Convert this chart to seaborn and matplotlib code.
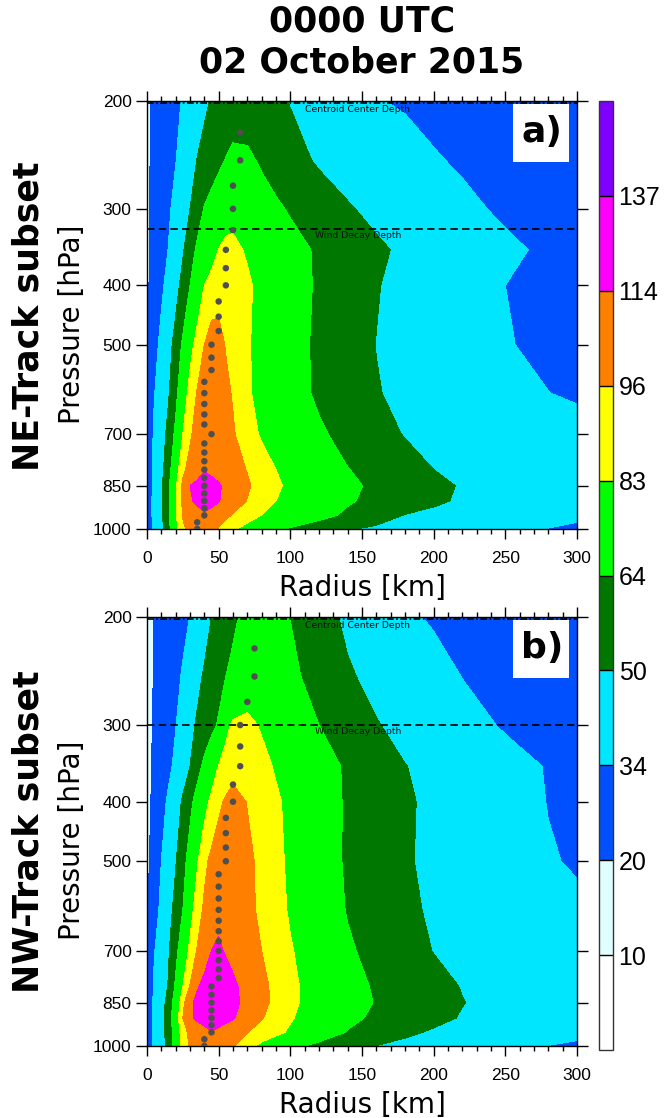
import numpy as np
import pandas as pd
import matplotlib
matplotlib.use("Agg")
import matplotlib.pyplot as plt
import matplotlib.patches as mpatches
import seaborn as sns
from matplotlib.ticker import MultipleLocator, NullLocator

sns.set_theme(style="ticks")
plt.rcParams["font.family"] = ["Liberation Sans", "DejaVu Sans"]
plt.rcParams["text.color"] = "black"
plt.rcParams["axes.labelcolor"] = "black"
plt.rcParams["xtick.color"] = "black"
plt.rcParams["ytick.color"] = "black"
plt.rcParams["axes.edgecolor"] = "black"

# ---------------- data ----------------
radius_km = [0, 5, 10, 15, 20, 25, 30, 35, 40, 45, 50, 55, 60, 70, 80, 90, 100,
             120, 140, 160, 180, 200, 220, 250, 280, 300]
pressure_hpa = [200, 250, 300, 350, 400, 500, 600, 700, 800, 850, 900, 950, 1000]

# NE-Track subset: wind speed (kt) at pressure_hpa (rows) x radius_km (cols)
ne_wind = [
    [18, 22.1, 25.3, 28.4, 31.5, 34.9, 39.2, 43.5, 47.8, 50.9, 52.6, 54.4, 56.2, 56.8, 54.4, 51.9, 49.5, 44.5, 39.5, 34.5, 33.0, 31.8, 30.6, 28.9, 27.2, 26],
    [18, 22.7, 26.3, 30, 33.6, 39.2, 44.9, 50.4, 54, 57.6, 61.1, 64.6, 67.6, 66.7, 62.1, 58.2, 54.3, 48.5, 45.0, 41.6, 38.1, 34.7, 33, 31.1, 29.3, 28],
    [18, 23.4, 27.8, 32.2, 37.7, 43.8, 50, 57.8, 64.8, 69.0, 73.3, 77.5, 79.1, 74.8, 70.5, 66.2, 62.6, 56.9, 51.1, 47.0, 43.3, 39.6, 35.9, 32.6, 30.4, 29],
    [18, 24.1, 29.2, 34.4, 41.5, 48.6, 58, 66.3, 72.1, 77.8, 83.3, 86, 85.8, 81.7, 77.5, 73.3, 69.1, 62, 57, 52, 47.9, 44.4, 41, 35.7, 32.5, 31],
    [18, 25.3, 31.5, 38.4, 45.6, 54, 64, 73.5, 83, 87.3, 91.6, 94.4, 91.2, 84.9, 79.7, 75, 70.3, 62.1, 56.4, 50.6, 46.7, 43.1, 39.5, 34, 32.2, 31],
    [19, 29.1, 37.6, 45.3, 54.7, 66.4, 78.3, 87.9, 96, 102.7, 100, 95.3, 91.6, 84.2, 79, 74.2, 69.3, 61.4, 55.5, 49.8, 46.4, 43, 39.6, 34.5, 32.3, 31],
    [21, 33.3, 41.2, 48.8, 60.1, 75.1, 87.8, 96.9, 103.9, 105.1, 101.8, 98.6, 95, 84.7, 79.1, 74.4, 69.6, 61.8, 56.2, 50.6, 47.6, 44.9, 42.2, 38.2, 34.1, 33],
    [22, 36.1, 44.3, 53.8, 67.2, 83, 93.8, 102.2, 110, 106.8, 103.6, 100.5, 97.3, 88.6, 81.4, 77.6, 73.7, 66, 59.7, 54, 49.4, 47.3, 45.3, 42.2, 39.1, 37],
    [22, 38.3, 46.3, 58, 76.4, 93, 100.9, 106.9, 113, 110.1, 107.1, 104.2, 101.3, 95.4, 89.2, 83, 79.3, 71.8, 64.4, 59.5, 54.7, 50, 47.6, 44, 40.4, 38],
    [22, 39, 48.2, 61.2, 80.9, 99, 114, 118, 122, 119.5, 116, 110.6, 106.3, 97.7, 91, 84.9, 80.6, 73.7, 66.8, 61.4, 57.1, 52.8, 49.1, 45.3, 41.5, 39],
    [22, 39.3, 48.2, 61.2, 80.9, 98.6, 112, 117, 120, 119, 115, 108.9, 104.3, 95.4, 89.2, 83, 79.5, 72.4, 65.4, 60.6, 56.2, 51.9, 48.5, 44.6, 40.6, 38],
    [22, 39.3, 48.2, 61.2, 80.9, 97, 102, 107, 112, 107.6, 103.1, 98.7, 94.8, 88.6, 82.6, 79.1, 75.5, 68.3, 61.5, 55.1, 49.5, 47.3, 45, 41.6, 38.3, 36],
    [24, 37.2, 45.2, 59.3, 79.2, 93.4, 100, 105, 105.8, 100.4, 95, 90, 85, 78.4, 72.6, 66.9, 62.5, 56.7, 50.9, 48, 45.5, 43.1, 40.7, 37.1, 33.7, 32],
]

# NW-Track subset
nw_wind = [
    [15, 20.5, 23.3, 26, 28.7, 31.4, 34.2, 39.5, 44.7, 50, 53.8, 57.6, 61.4, 68.5, 70.4, 67.1, 63.8, 55.2, 47.6, 41.7, 35.7, 32.9, 31.3, 28.9, 26.6, 25],
    [15, 20.7, 24.2, 27.7, 31.2, 35.1, 40.9, 46.6, 51.6, 55.8, 59.9, 64, 67.5, 74.5, 75.8, 71.3, 66.9, 59, 51.5, 46.5, 42.2, 37.9, 33.8, 31.3, 28.7, 27],
    [16, 21.6, 25.6, 29.6, 33.6, 39.8, 46.2, 51.7, 55.9, 60.2, 65.5, 80.1, 85, 86.2, 81.7, 77.3, 72.8, 64, 57.3, 50.7, 46.3, 42.1, 38, 32.9, 29.9, 28],
    [16, 21.9, 26.5, 31.2, 36.7, 43.3, 50, 58.8, 67.3, 75.6, 83.4, 87.3, 91.1, 92.2, 86.7, 81.7, 77.7, 69.6, 62.2, 56.3, 50.3, 46.7, 43.3, 38.1, 33.3, 31],
    [17, 22.7, 29.3, 36.3, 43.9, 51.8, 60.5, 69.4, 78.3, 86.3, 93.2, 97.9, 101, 95.5, 90.2, 84.9, 80, 70.6, 62.4, 57, 51.6, 47.5, 44, 38.7, 33.7, 32],
    [18, 24, 34, 41.6, 49.2, 59.1, 70, 81.6, 92.9, 99.2, 103.6, 108, 105, 99, 92.8, 86.3, 80.6, 70.8, 62.3, 56.8, 51.2, 47.5, 44.3, 39.6, 34.8, 33],
    [19, 27.4, 37.6, 45.3, 54, 64, 77.6, 89.5, 98.3, 104.2, 110, 107.3, 104.6, 99.2, 93.5, 87.3, 81.6, 72.1, 63.2, 57.7, 52.2, 48.5, 46, 42.3, 38.5, 36],
    [20, 33.2, 41.2, 48.8, 60.1, 73.2, 86.1, 97, 105.5, 114, 116.3, 112.7, 109.3, 102.7, 96, 90.1, 84.1, 74.8, 65.8, 59.8, 54.5, 49.7, 47.3, 43.8, 40.3, 38],
    [21, 35.9, 43.2, 50.9, 66.3, 83, 96.6, 112.1, 119.4, 125.5, 125.5, 121.2, 117, 108.4, 99.8, 92.3, 85.9, 76.8, 69, 62.4, 58, 53.6, 49.5, 45.5, 41.6, 39],
    [21, 37, 44.7, 54.7, 71.6, 91.7, 110.4, 118.6, 124.3, 130, 126, 122, 118, 109.4, 100.1, 92.3, 85.7, 77.2, 70, 63.2, 58.9, 54.6, 50.3, 46.4, 42.6, 40],
    [21, 37.9, 45.7, 56.3, 74.2, 96, 111, 117.1, 121.1, 125, 121.8, 118.5, 115.3, 106.4, 96.9, 90.4, 84.2, 75.6, 67.3, 61.5, 57.2, 53, 49.2, 45.4, 41.6, 39],
    [21, 37.8, 45.4, 55.6, 71.6, 90.4, 99.2, 103.8, 108.4, 113, 109.7, 106.3, 103, 96.3, 91.2, 86.1, 81.1, 71.9, 63.2, 57.7, 52.2, 48.6, 46.3, 42.8, 39.3, 37],
    [22, 36.9, 44.2, 53.5, 71.6, 88.2, 97.7, 102, 106.3, 106.2, 103.2, 100.2, 97.2, 87.3, 79.5, 73.8, 68, 60.4, 54.9, 49.7, 47, 44.3, 41.6, 37.5, 33.7, 32],
]

# radius of maximum wind (gray dots)
rmw_pressure = [225, 250, 275, 300, 325, 350, 375, 400, 425, 450, 475, 500, 525, 550,
                575, 600, 625, 650, 675, 700, 725, 750, 775, 800, 825, 850, 875, 900,
                925, 950, 975, 1000]
ne_rmw_radius = [65, 65, 60, 60, 60, 55, 55, 55, 50, 50, 50, 45, 45, 45, 40, 40, 40, 40,
                 40, 45, 40, 40, 40, 40, 40, 40, 40, 40, 40, 40, 35, 35]
nw_rmw_radius = [75, 75, 70, 65, 65, 65, 60, 60, 55, 55, 55, 55, 50, 50, 50, 50, 50, 50,
                 50, 50, 50, 50, 50, 45, 45, 45, 45, 45, 45, 45, 40, 40]

centroid_depth_hpa = [201.5, 201.5]
wind_decay_depth_hpa = [324, 300]

levels = [0, 10, 20, 34, 50, 64, 83, 96, 114, 137, 200]
level_labels = ["10", "20", "34", "50", "64", "83", "96", "114", "137"]
fill_colors = ["#ffffff", "#e0ffff", "#0050ff", "#00e6ff", "#007800",
               "#00ff00", "#ffff00", "#ff8000", "#ff00ff", "#8000ff"]

p_ticks = [200, 300, 400, 500, 700, 850, 1000]
r_ticks = [0, 50, 100, 150, 200, 250, 300]

panel_titles = ["NE-Track subset", "NW-Track subset"]
panel_letters = ["a)", "b)"]
title_text = "0000 UTC\n02 October 2015"

# ---------------- figure ----------------
W, H = 667, 1118
fig = plt.figure(figsize=(W / 100, H / 100), dpi=100)
ax_a = fig.add_axes([147 / W, 1 - 529 / H, 430 / W, 428 / H])
ax_b = fig.add_axes([147 / W, 1 - 1046 / H, 430 / W, 429 / H])
cax = fig.add_axes([599 / W, 1 - 1050 / H, 14 / W, 949 / H])


def draw_panel(ax, wind, rmw_r, decay_p, side_label, letter, label_center_y):
    Z = np.array(wind, dtype=float)
    cf = ax.contourf(radius_km, pressure_hpa, Z, levels=levels, colors=fill_colors, zorder=1)
    dots = pd.DataFrame({"radius": rmw_r, "pressure": rmw_pressure})
    sns.scatterplot(data=dots, x="radius", y="pressure", ax=ax, color="#4f4f4f",
                    s=22, edgecolor="none", linewidth=0, zorder=5, legend=False)

    ax.set_yscale("log")
    ax.set_ylim(1000, 200)
    ax.set_xlim(0, 300)
    ax.set_yticks(p_ticks, labels=[str(p) for p in p_ticks])
    ax.yaxis.set_minor_locator(NullLocator())
    ax.set_xticks(r_ticks, labels=[str(r) for r in r_ticks])
    ax.xaxis.set_minor_locator(MultipleLocator(10))

    ax.tick_params(which="both", direction="out", top=True, right=True,
                   labeltop=False, labelright=False, width=1.0, color="black",
                   labelcolor="black")
    ax.tick_params(axis="x", which="major", length=7.5, pad=8, labelsize=12.5)
    ax.tick_params(axis="x", which="minor", length=3.8)
    ax.tick_params(axis="y", which="major", length=8, pad=3, labelsize=12.5)
    for s in ax.spines.values():
        s.set_linewidth(1.0)
        s.set_color("black")

    ax.set_xlabel("Radius [km]", fontsize=20, family="DejaVu Sans", color="black")
    ax.set_ylabel("Pressure [hPa]", fontsize=20, family="DejaVu Sans", color="black")
    ax.xaxis.label.set_va("center")
    ax.xaxis.set_label_coords(0.5, -59 / 428)
    ax.yaxis.label.set_va("center")
    ax.yaxis.set_label_coords(-75.5 / 430, 0.479)

    # depth lines
    ax.axhline(centroid_depth_hpa[0], color="black", lw=1.2, ls=(0, (4, 1.5, 1, 1.5)), zorder=4)
    ax.text(147, centroid_depth_hpa[0] * 1.024, "Centroid Center Depth", ha="center",
            va="center", fontsize=6.7, color="#111111", family="DejaVu Sans", zorder=4)
    ax.axhline(decay_p, color="black", lw=1.2, ls=(0, (4.5, 2.5)), zorder=4)
    ax.text(147, decay_p * 1.025, "Wind Decay Depth", ha="center", va="center",
            fontsize=6.7, color="#111111", family="DejaVu Sans", zorder=4)

    # panel letter
    ax.add_patch(mpatches.Rectangle((0.851, 0.857), 0.131, 0.135, transform=ax.transAxes,
                                    facecolor="white", edgecolor="none", zorder=6))
    ax.text(0.918, 0.928, letter, transform=ax.transAxes, ha="center", va="center",
            fontsize=26, weight="bold", family="DejaVu Sans", color="black", zorder=7)

    fig.text(29 / W, 1 - label_center_y / H, side_label, rotation=90, ha="center",
             va="center", fontsize=25, weight="bold", family="DejaVu Sans", color="black")
    return cf


cf = draw_panel(ax_a, ne_wind, ne_rmw_radius, wind_decay_depth_hpa[0],
                panel_titles[0], panel_letters[0], 316)
draw_panel(ax_b, nw_wind, nw_rmw_radius, wind_decay_depth_hpa[1],
           panel_titles[1], panel_letters[1], 832)

cb = fig.colorbar(cf, cax=cax, ticks=levels[1:-1], drawedges=True)
cb.set_ticklabels(level_labels)
cb.outline.set_linewidth(1.0)
cb.outline.set_edgecolor("#333333")
cb.dividers.set_color("black")
cb.dividers.set_linewidth(1.0)
cax.tick_params(length=0, labelsize=18, pad=4, labelcolor="black")

fig.text(362 / W, 1 - 4 / H, title_text, ha="center", va="top", fontsize=25,
         weight="bold", family="DejaVu Sans", color="black", linespacing=1.28)

fig.savefig("out.png", dpi=100)
